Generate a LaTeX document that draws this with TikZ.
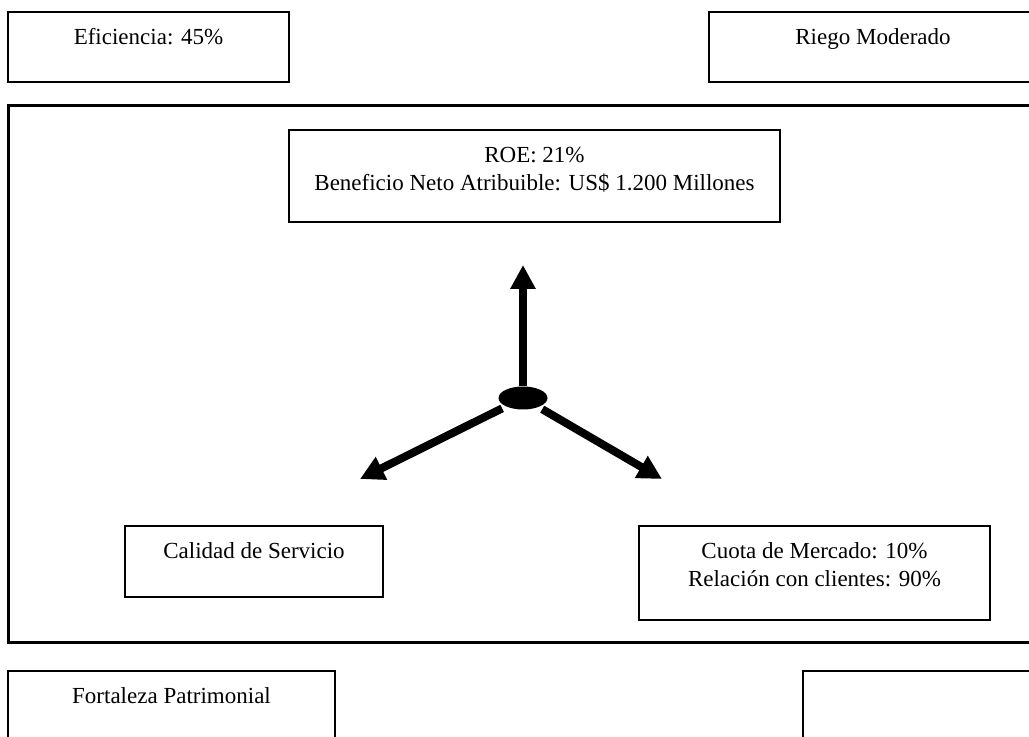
\documentclass[tikz,border=0pt]{standalone}
\usepackage{fontspec}
\setmainfont{Liberation Serif}
\usepackage{tikz}
\usetikzlibrary{shapes.geometric, arrows.meta, positioning}
\tikzstyle{block}=[draw,rectangle,line width=1pt,inner sep=0pt]
\tikzstyle{marco}=[draw,rectangle,line width=1.5pt,inner sep=0pt]
\tikzstyle{txt}=[inner sep=0pt,align=center]
\tikzstyle{nucleo}=[ellipse,fill=black,inner sep=0pt,minimum width=24.5pt,minimum height=11.5pt]
\tikzstyle{flecha}=[->,line width=4pt]
\tikzstyle{every node}=[font=\fontsize{11.5}{14.25}\selectfont]

\begin{document}
\begin{tikzpicture}[>={Triangle[length=12pt,width=12pt]}, x=0.5pt, y=-0.5pt, node distance=6.5pt]
  \clip (0,0) rectangle (1029,737);
  % outer boxes
  \node[block, minimum width=140.5pt, minimum height=35pt] (efic) at (148.5,47) {};
  \node[txt, below=of efic.north] (eficTxt) {\strut Eficiencia: 45\%};
  \node[block, minimum width=164pt, minimum height=35pt] (riego) at (873,47) {};
  \node[txt, below=of riego.north] (riegoTxt) {\strut Riego Moderado};
  \node[block, minimum width=163.5pt, minimum height=37pt] (fort) at (171.5,708) {};
  \node[txt, below=of fort.north] (fortTxt) {\strut Fortaleza Patrimonial};
  \node[block, minimum width=121pt, minimum height=37pt] (vacio) at (924,708) {};
  % central frame
  \node[marco, minimum width=516pt, minimum height=268.5pt] (marco) at (524,374.5) {};
  \node[block, minimum width=245.5pt, minimum height=46pt] (roe) at (534.5,176) {};
  \node[txt, below=of roe.north] (roeTxt) {\strut ROE: 21\%\\Beneficio Neto Atribuible: US\$ 1.200 Millones};
  \node[block, minimum width=129pt, minimum height=35.5pt] (calidad) at (254,561.5) {};
  \node[txt, below=of calidad.north] (calidadTxt) {\strut Calidad de Servicio};
  \node[block, minimum width=175.5pt, minimum height=47pt] (cuota) at (814.5,573) {};
  \node[txt, below=of cuota.north] (cuotaTxt) {\strut Cuota de Mercado: 10\%\\Relación con clientes: 90\%};
  % arrows
  \node[nucleo] (hub) at (523,398) {};
  \coordinate (arriba) at (523,265);
  \coordinate (izq) at (360,479);
  \coordinate (der) at (662,479);
  \draw[flecha] (hub) -- (arriba);
  \draw[flecha, shorten <=2pt] (hub) -- (izq);
  \draw[flecha, shorten <=2pt] (hub) -- (der);
\end{tikzpicture}
\end{document}
